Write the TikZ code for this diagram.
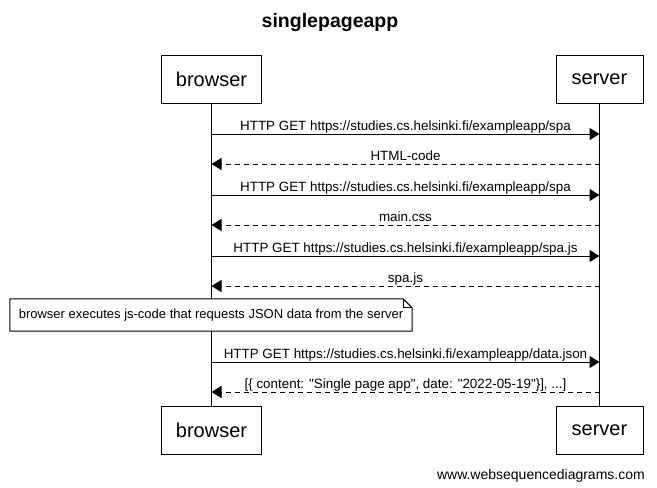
\documentclass[tikz,border=0pt]{standalone}
\usepackage{fontspec}
\setmainfont{Liberation Sans}
\usetikzlibrary{arrows.meta}

\begin{document}
\begin{tikzpicture}[x=1pt,y=-1pt,
	actor/.style={draw,line width=1pt,minimum height=48pt,font=\fontsize{20}{24}\selectfont},
	msg/.style={line width=1pt,-{Triangle[length=10pt,width=12pt]}},
	reply/.style={msg,dash pattern=on 5pt off 4pt},
	txt/.style={anchor=base,yshift=4pt,inner sep=0pt,font=\fontsize{13.4}{15}\selectfont},
	notebox/.style={fill=white,minimum width=402pt,minimum height=32pt,inner sep=0pt,font=\fontsize{13}{15}\selectfont}]
	\useasboundingbox (0,0) rectangle (657,488);
	\node[font=\bfseries\fontsize{19.5}{23}\selectfont] (title) at (330,22) {singlepageapp};

	\node[actor,minimum width=100pt] (browser) at (211.5,79) {browser};
	\node[actor,minimum width=87pt] (server) at (599.5,79) {server};
	\node[actor,minimum width=100pt] (browserb) at (211.5,430) {browser};
	\node[actor,minimum width=87pt] (serverb) at (599.5,430) {server};
	\draw[line width=1pt] (browser) -- (browserb);
	\draw[line width=1pt] (server) -- (serverb);

	\coordinate (b1) at (browser |- 0,134);
	\coordinate (s1) at (server |- 0,134);
	\coordinate (b2) at (browser |- 0,164);
	\coordinate (s2) at (server |- 0,164);
	\coordinate (b3) at (browser |- 0,195);
	\coordinate (s3) at (server |- 0,195);
	\coordinate (b4) at (browser |- 0,225);
	\coordinate (s4) at (server |- 0,225);
	\coordinate (b5) at (browser |- 0,256);
	\coordinate (s5) at (server |- 0,256);
	\coordinate (b6) at (browser |- 0,286);
	\coordinate (s6) at (server |- 0,286);
	\coordinate (b7) at (browser |- 0,362);
	\coordinate (s7) at (server |- 0,362);
	\coordinate (b8) at (browser |- 0,392);
	\coordinate (s8) at (server |- 0,392);

	\draw[msg] (b1) -- (s1) node[midway,txt] {HTTP GET https://studies.cs.helsinki.fi/exampleapp/spa};
	\draw[reply] (s2) -- (b2) node[midway,txt] {HTML-code};
	\draw[msg] (b3) -- (s3) node[midway,txt] {HTTP GET https://studies.cs.helsinki.fi/exampleapp/spa};
	\draw[reply] (s4) -- (b4) node[midway,txt] {main.css};
	\draw[msg] (b5) -- (s5) node[midway,txt] {HTTP GET https://studies.cs.helsinki.fi/exampleapp/spa.js};
	\draw[reply] (s6) -- (b6) node[midway,txt] {spa.js};

	\node[notebox] (note) at (211,315) {browser executes js-code that requests JSON data from the server};
	\draw[line width=1pt] (note.south west) -- (note.north west) -- ([xshift=-9pt]note.north east)
		-- ([yshift=-9pt]note.north east) -- (note.south east) -- cycle;
	\draw[line width=1pt] ([xshift=-9pt]note.north east) |- ([yshift=-9pt]note.north east);

	\draw[msg] (b7) -- (s7) node[midway,txt] {HTTP GET https://studies.cs.helsinki.fi/exampleapp/data.json};
	\draw[reply] (s8) -- (b8) node[midway,txt] {[\{ content: \textquotedbl Single page app\textquotedbl, date: \textquotedbl 2022-05-19\textquotedbl\}], ...]};

	\node[anchor=base east,inner sep=0pt,font=\fontsize{14}{16}\selectfont] (credit) at (645,479) {www.websequencediagrams.com};
\end{tikzpicture}
\end{document}
